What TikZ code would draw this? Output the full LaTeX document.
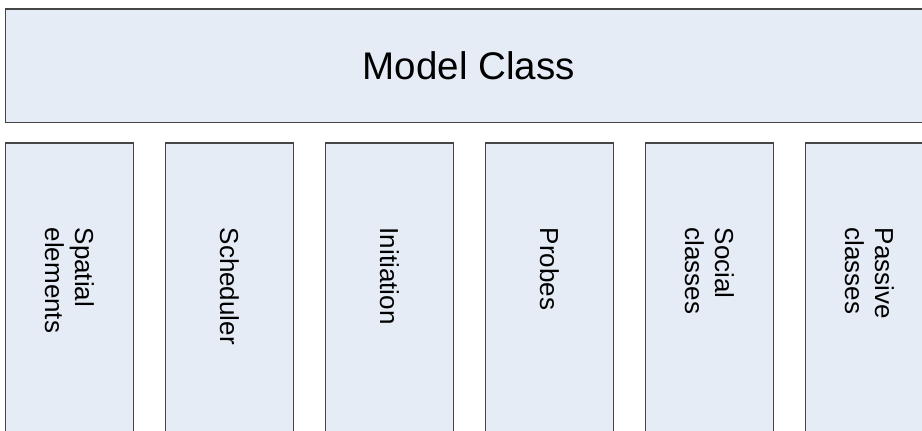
\documentclass[tikz,border=0pt]{standalone}
\usepackage{fontspec}
\setmainfont{Liberation Sans}
\definecolor{boxfill}{HTML}{E6ECF6}
\definecolor{boxline}{HTML}{454545}
\begin{document}
\begin{tikzpicture}[x=0.75pt,y=-0.75pt,
  part/.style={draw=boxline,fill=boxfill,line width=0.9pt,inner sep=0pt},
  parttext/.style={rotate=-90,anchor=west,inner sep=0pt,align=left,font=\fontsize{19.5}{22.5}\selectfont}]
\def\px{0.75pt} % one pixel
\def\colw{128}  % column width
\def\colh{300}  % column height, runs off the bottom
\useasboundingbox (0,0) rectangle (922,430);
\clip (0,0) rectangle (922,430);
\node[part,minimum width=926.5*\px,minimum height=113.5*\px,font=\fontsize{28.9}{34}\selectfont] (model) at (468.75,65.75) {Model Class};
\foreach \lbl [count=\i from 0] in {{Spatial\\elements},Scheduler,Initiation,Probes,{Social\\classes},{Passive\\classes}}{
  \node[part,minimum width=\colw*\px,minimum height=\colh*\px] (col\i) at ({69.5+160*\i},293) {};
  \node[parttext] (txt\i) at ([yshift=-63.75pt]col\i.north) {\lbl};
}
\end{tikzpicture}
\end{document}
